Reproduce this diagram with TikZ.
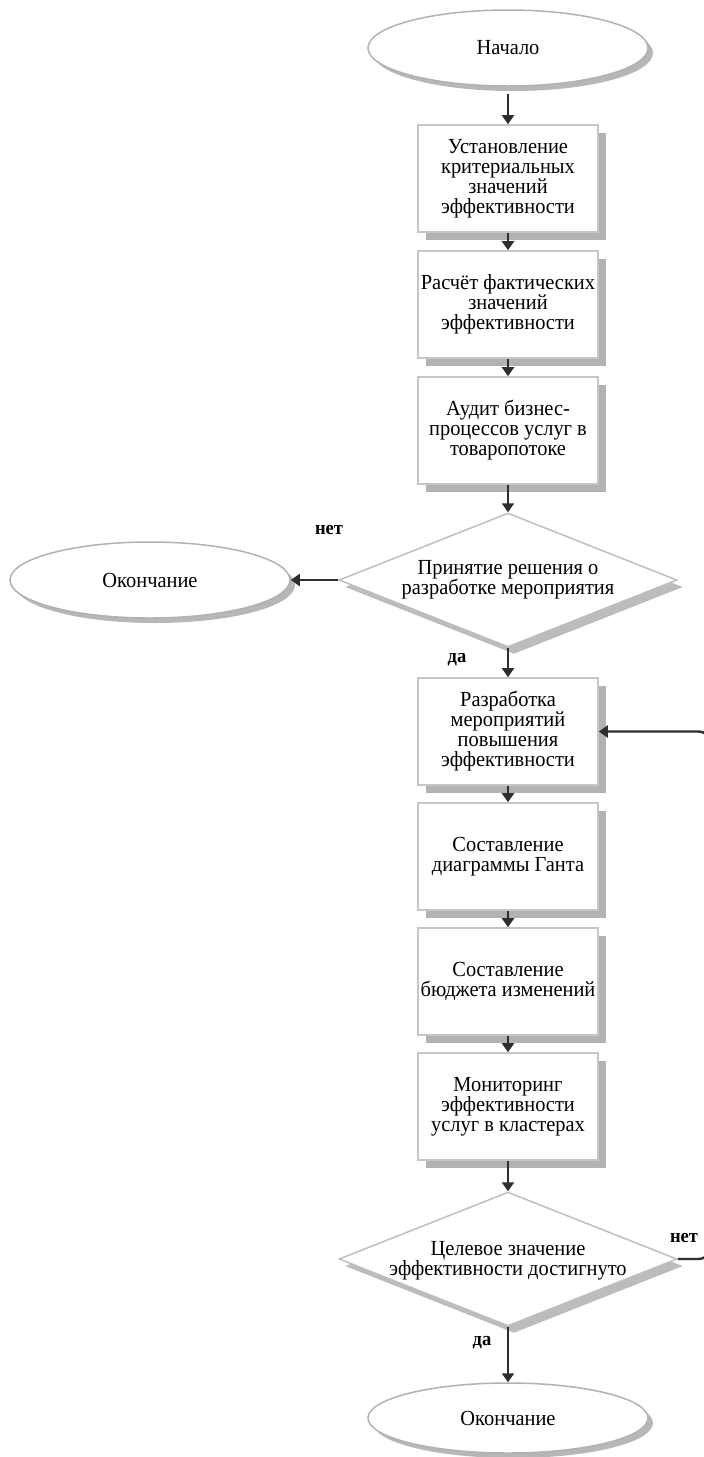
\documentclass[tikz,border=0pt]{standalone}
\usepackage{fontspec}
\setmainfont{Liberation Serif}[FakeStretch=0.95]
\usetikzlibrary{shapes.geometric,shadows,arrows.meta}
\begin{document}
\begin{tikzpicture}[x=1pt,y=-1pt,
  txt/.style={font=\fontsize{21.5}{20}\selectfont, align=center},
  proc/.style={rectangle, draw=gray!45, line width=1.6pt, fill=white,
    minimum width=180pt, minimum height=107pt, inner sep=0pt, txt,
    drop shadow={shadow xshift=8pt, shadow yshift=-8pt, fill=gray!75, opacity=0.8}},
  term/.style={ellipse, draw=gray!60, line width=1.5pt, fill=white,
    minimum width=280pt, minimum height=76pt, inner sep=0pt, txt,
    drop shadow={shadow xshift=5pt, shadow yshift=-5pt, fill=gray!70, opacity=0.8}},
  dec/.style={diamond, draw=gray!50, line width=1.5pt, fill=white,
    minimum width=338pt, minimum height=134pt, inner sep=0pt,
    drop shadow={shadow xshift=6pt, shadow yshift=-7pt, fill=gray!65, opacity=0.8}},
  lab/.style={font=\fontsize{19.5}{19}\selectfont\bfseries},
  arr/.style={-{Triangle[length=9pt,width=12pt]}, line width=2.4pt, draw=black!82}
]
\useasboundingbox (0,0) rectangle (704,1457);
\fill[white] (0,0) rectangle (704,1457);
\clip (0,0) rectangle (704,1457);

\node[term] (t0) at (508,48) {Начало};
\node[proc] (b1) at (508,178.5) {Установление\\критериальных\\значений\\эффективности};
\node[proc] (b2) at (508,304.5) {Расчёт фактических\\значений\\эффективности};
\node[proc] (b3) at (508,430.5) {Аудит бизнес-\\процессов услуг в\\товаропотоке};
\node[dec] (d1) at (508,580) {};
\node[txt] (d1t) at (508,580) {Принятие решения о\\разработке мероприятия};
\node[term] (t1) at (150,580) {Окончание};
\node[proc] (b4) at (508,731.5) {Разработка\\мероприятий\\повышения\\эффективности};
\node[proc] (b5) at (508,856.5) {Составление\\диаграммы Ганта};
\node[proc] (b6) at (508,981.5) {Составление\\бюджета изменений};
\node[proc] (b7) at (508,1106.5) {Мониторинг\\эффективности\\услуг в кластерах};
\node[dec] (d2) at (508,1259) {};
\node[txt] (d2t) at (508,1261) {Целевое значение\\эффективности достигнуто};
\node[term, minimum height=70pt] (t2) at (508,1418) {Окончание};

\node[lab] (n1) at (329,530) {нет};
\node[lab] (y1) at (457,660) {да};
\node[lab] (n2) at (684,1238) {нет};
\node[lab] (y2) at (482,1343) {да};

\draw[arr, shorten <=7pt] (t0.south) -- (b1.north);
\draw[arr] (b1) -- (b2);
\draw[arr] (b2) -- (b3);
\draw[arr] (b3.south) -- (d1.north);
\draw[arr] (d1.west) -- (t1.east);
\draw[arr] (d1.south) -- (b4.north);
\draw[arr] (b4) -- (b5);
\draw[arr] (b5) -- (b6);
\draw[arr] (b6) -- (b7);
\draw[arr] (b7.south) -- (d2.north);
\draw[arr] (d2.south) -- (t2.north);
\coordinate (lb) at (712,1259);
\coordinate (lt) at (712,731.5);
\draw[arr, rounded corners=14pt] (d2.east) -- (lb) -- (lt) -- (b4.east);
\end{tikzpicture}
\end{document}
